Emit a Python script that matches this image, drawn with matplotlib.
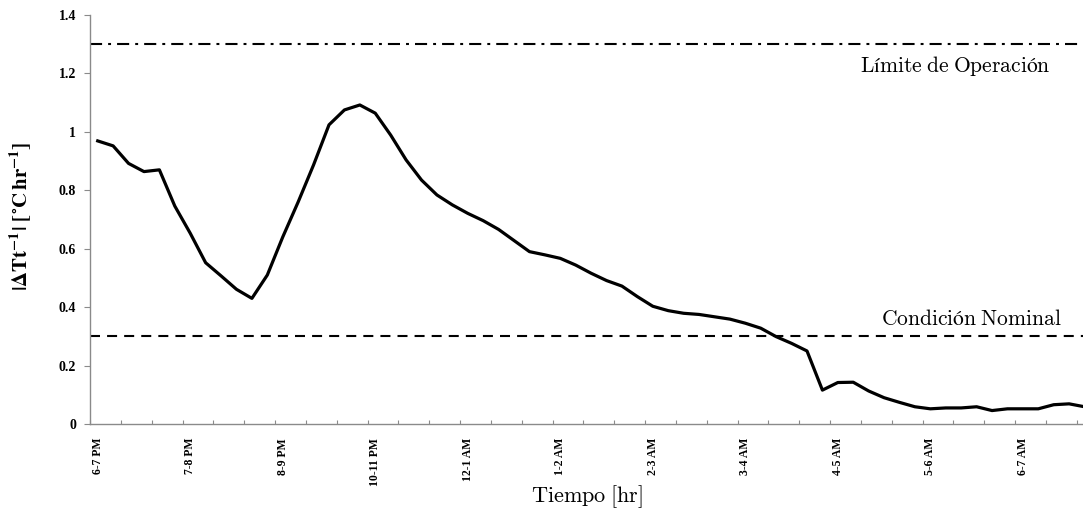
import matplotlib
matplotlib.use("Agg")
import matplotlib.pyplot as plt
from matplotlib.ticker import FixedLocator, NullFormatter

# Hourly-rate series, one value per 10-minute step from 6 PM to 7 AM
rate = [0.969, 0.952, 0.892, 0.864, 0.870, 0.746, 0.653, 0.552, 0.507, 0.461,
        0.430, 0.510, 0.640, 0.760, 0.887, 1.024, 1.075, 1.092, 1.064, 0.989,
        0.904, 0.835, 0.784, 0.750, 0.721, 0.696, 0.666, 0.628, 0.590, 0.579,
        0.567, 0.544, 0.516, 0.491, 0.472, 0.436, 0.403, 0.388, 0.379, 0.375,
        0.367, 0.359, 0.345, 0.328, 0.299, 0.276, 0.250, 0.116, 0.142, 0.143,
        0.113, 0.090, 0.074, 0.059, 0.052, 0.055, 0.055, 0.059, 0.046, 0.052,
        0.052, 0.052, 0.066, 0.069, 0.059]

hour_labels = ["6-7 PM", "7-8 PM", "8-9 PM", "10-11 PM", "12-1 AM", "1-2 AM",
               "2-3 AM", "3-4 AM", "4-5 AM", "5-6 AM", "6-7 AM"]
label_step = 6

operating_limit = 1.3
nominal_level = 0.3
limit_text = r"$\mathrm{Límite\;de\;Operación}$"
nominal_text = r"$\mathrm{Condición\;Nominal}$"
xlabel_text = r"$\mathrm{Tiempo\;[hr]}$"
ylabel_text = r"$\mathbf{|\Delta Tt^{-1}|\ [^{\circ}C\,hr^{-1}]}$"

W, H = 1083, 514
fig = plt.figure(figsize=(W / 100, H / 100), dpi=100)
ax = fig.add_axes([90 / W, (H - 424) / H, (W - 90) / W, (424 - 15) / H])

x = list(range(len(rate)))
ax.plot(x, rate, color="black", lw=2.3, solid_joinstyle="round", zorder=3)

ax.axhline(operating_limit, color="black", lw=1.5,
           linestyle=(0, (5.8, 2.9, 1.4, 2.9)), zorder=2)
ax.axhline(nominal_level, color="black", lw=1.5,
           linestyle=(0, (4.8, 3.4)), zorder=2)

ax.set_xlim(-0.5, 63.9)
ax.set_ylim(0, 1.4)

# y axis
yt = [0, 0.2, 0.4, 0.6, 0.8, 1.0, 1.2, 1.4]
ax.set_yticks(yt)
ax.set_yticklabels(["%g" % v for v in yt], fontfamily="Liberation Serif",
                   fontweight="bold", fontsize=10)
ax.tick_params(axis="y", direction="out", length=4, width=0.8,
               color="#8a8a8a", pad=6)

# x axis: label every hour, small tick every other step
label_pos = [i * label_step for i in range(len(hour_labels))]
ax.set_xticks(label_pos)
ax.set_xticklabels(hour_labels, rotation=90, va="top", ha="center",
                   fontfamily="Liberation Serif", fontweight="bold",
                   fontsize=8.5)
ax.tick_params(axis="x", which="major", length=0, pad=10)
ax.xaxis.set_minor_locator(FixedLocator([-0.5 + 2 * k for k in range(33)]))
ax.xaxis.set_minor_formatter(NullFormatter())
ax.tick_params(axis="x", which="minor", direction="in", length=3, width=0.8,
               color="#8a8a8a")

for side in ("top", "right"):
    ax.spines[side].set_visible(False)
for side in ("left", "bottom"):
    ax.spines[side].set_color("#8a8a8a")
    ax.spines[side].set_linewidth(1.0)

ax.text(0.967, operating_limit - 0.075, limit_text, transform=ax.get_yaxis_transform(),
        ha="right", va="center", fontsize=15.5, math_fontfamily="cm")
ax.text(0.979, nominal_level + 0.06, nominal_text, transform=ax.get_yaxis_transform(),
        ha="right", va="center", fontsize=15.5, math_fontfamily="cm")

fig.text(587 / W, 1 - 497 / H, xlabel_text, ha="center", va="center",
         fontsize=16, math_fontfamily="cm")
fig.text(20 / W, 1 - 216 / H, ylabel_text, ha="center", va="center",
         rotation=90, fontsize=15, math_fontfamily="stix")

fig.savefig("out.png", dpi=100, facecolor="white")
